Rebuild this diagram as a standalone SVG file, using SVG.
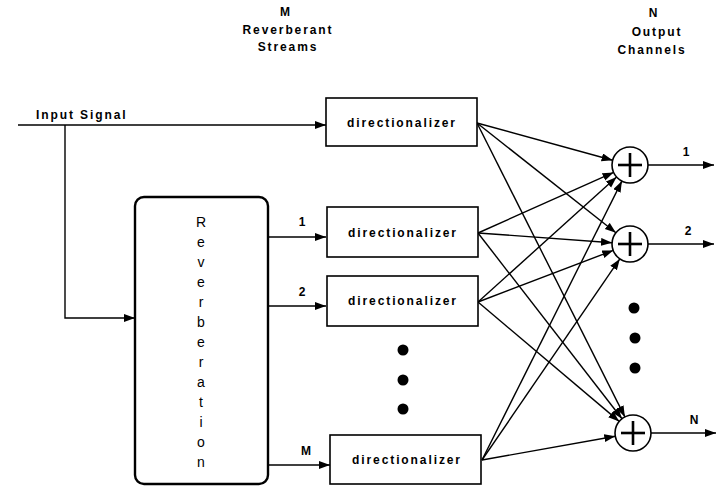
<svg xmlns="http://www.w3.org/2000/svg" width="720" height="486" viewBox="0 0 720 486">
<defs>
<marker id="ah" markerUnits="userSpaceOnUse" markerWidth="12" markerHeight="10" refX="11" refY="4" orient="auto">
<path d="M0,0 L11,4 L0,8 Z" fill="#000"/>
</marker>
</defs>
<style>
.t{font-family:"Liberation Sans",Arial,sans-serif;font-size:12px;font-weight:bold;fill:#000;letter-spacing:1.9px}
.n{font-family:"Liberation Sans",Arial,sans-serif;font-size:12px;font-weight:bold;fill:#000;text-anchor:middle}
.rv{font-family:"Liberation Sans",Arial,sans-serif;font-size:14px;fill:#000;text-anchor:middle}
.box{fill:#fff;stroke:#000;stroke-width:1.6}
.ar{fill:none;stroke:#000;stroke-width:1.4;marker-end:url(#ah)}
.sum{fill:#fff;stroke:#000;stroke-width:1.6}
.plus{stroke:#000;stroke-width:2.6}
</style>
<rect width="720" height="486" fill="#fff"/>

<g id="headers">
<text class="n" x="285" y="16">M</text>
<text class="t" x="288" y="34" text-anchor="middle">Reverberant</text>
<text class="t" x="288" y="51" text-anchor="middle">Streams</text>
<text class="n" x="653" y="17">N</text>
<text class="t" x="657" y="36" text-anchor="middle">Output</text>
<text class="t" x="652" y="54" text-anchor="middle">Channels</text>
<text class="t" x="36" y="119">Input Signal</text>
</g>

<g id="connectors">
<line class="ar" x1="18" y1="125" x2="326" y2="125"/>
<polyline class="ar" points="65,125 65,318 135,318"/>
<line class="ar" x1="268" y1="237" x2="326" y2="237"/>
<line class="ar" x1="268" y1="306" x2="326" y2="306"/>
<line class="ar" x1="268" y1="465" x2="330" y2="465"/>
<text class="n" x="302" y="226">1</text>
<text class="n" x="302" y="296">2</text>
<text class="n" x="306" y="455">M</text>

<line class="ar" x1="477" y1="123" x2="612.6" y2="160.2"/>
<line class="ar" x1="477" y1="123" x2="615.9" y2="232.8"/>
<line class="ar" x1="477" y1="123" x2="624.9" y2="416.9"/>
<line class="ar" x1="478" y1="233" x2="613.6" y2="172.4"/>
<line class="ar" x1="478" y1="233" x2="612.0" y2="242.7"/>
<line class="ar" x1="478" y1="233" x2="622.0" y2="418.8"/>
<line class="ar" x1="478" y1="302" x2="616.6" y2="177.1"/>
<line class="ar" x1="478" y1="302" x2="613.2" y2="250.4"/>
<line class="ar" x1="478" y1="302" x2="619.2" y2="421.4"/>
<line class="ar" x1="482" y1="460" x2="621.9" y2="181.1"/>
<line class="ar" x1="482" y1="460" x2="619.8" y2="258.9"/>
<line class="ar" x1="482" y1="460" x2="615.3" y2="436.2"/>

<line class="ar" x1="648" y1="165" x2="714" y2="165"/>
<line class="ar" x1="648" y1="244" x2="714" y2="244"/>
<line class="ar" x1="651" y1="433" x2="716" y2="433"/>
<text class="n" x="686" y="156">1</text>
<text class="n" x="688" y="235">2</text>
<text class="n" x="694" y="424">N</text>
</g>

<g id="reverberation">
<rect x="135" y="197" width="133" height="287" rx="9" ry="9" fill="#fff" stroke="#000" stroke-width="2.4"/>
<text class="rv" x="201" y="227">R</text>
<text class="rv" x="201" y="247">e</text>
<text class="rv" x="201" y="267">v</text>
<text class="rv" x="201" y="287">e</text>
<text class="rv" x="201" y="307">r</text>
<text class="rv" x="201" y="327">b</text>
<text class="rv" x="201" y="347">e</text>
<text class="rv" x="201" y="367">r</text>
<text class="rv" x="201" y="387">a</text>
<text class="rv" x="201" y="407">t</text>
<text class="rv" x="201" y="427">i</text>
<text class="rv" x="201" y="447">o</text>
<text class="rv" x="201" y="467">n</text>
</g>

<g id="dir1">
<rect class="box" x="326" y="98" width="151" height="48"/>
<text class="t" x="402" y="127" text-anchor="middle">directionalizer</text>
</g>
<g id="dir2">
<rect class="box" x="327" y="207" width="151" height="50"/>
<text class="t" x="403" y="237" text-anchor="middle">directionalizer</text>
</g>
<g id="dir3">
<rect class="box" x="327" y="276" width="151" height="50"/>
<text class="t" x="403" y="305" text-anchor="middle">directionalizer</text>
</g>
<g id="dirM">
<rect class="box" x="330" y="435" width="151" height="49"/>
<text class="t" x="407" y="464" text-anchor="middle">directionalizer</text>
</g>

<g id="dots">
<circle cx="403" cy="350" r="5.5"/>
<circle cx="403" cy="380" r="5.5"/>
<circle cx="403" cy="409" r="5.5"/>
<circle cx="634" cy="308" r="5.5"/>
<circle cx="635" cy="338" r="5.5"/>
<circle cx="635" cy="368" r="5.5"/>
</g>

<g id="sum1">
<circle class="sum" cx="630" cy="165" r="18"/>
<line class="plus" x1="618" y1="165" x2="642" y2="165"/>
<line class="plus" x1="630" y1="153" x2="630" y2="177"/>
</g>
<g id="sum2">
<circle class="sum" cx="630" cy="244" r="18"/>
<line class="plus" x1="618" y1="244" x2="642" y2="244"/>
<line class="plus" x1="630" y1="232" x2="630" y2="256"/>
</g>
<g id="sumN">
<circle class="sum" cx="633" cy="433" r="18"/>
<line class="plus" x1="621" y1="433" x2="645" y2="433"/>
<line class="plus" x1="633" y1="421" x2="633" y2="445"/>
</g>
</svg>
